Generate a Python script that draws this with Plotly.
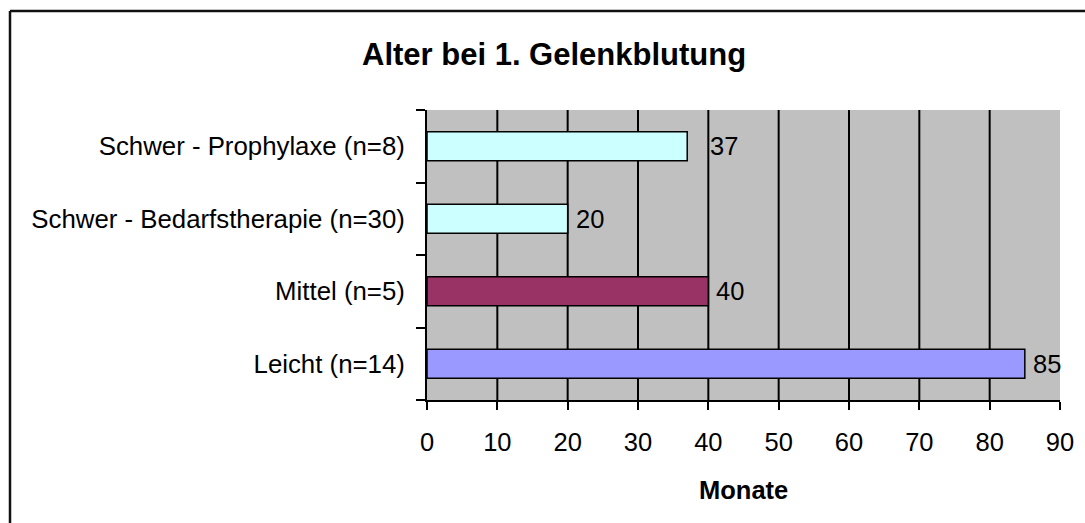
import plotly.graph_objects as go

categories = ["Leicht (n=14)", "Mittel (n=5)", "Schwer - Bedarfstherapie (n=30)", "Schwer - Prophylaxe (n=8)"]
values = [85, 40, 20, 37]
colors = ["#9999FF", "#993366", "#CCFFFF", "#CCFFFF"]
label_pad = [6, 6, 6, 21]
x_ticks = [0, 10, 20, 30, 40, 50, 60, 70, 80, 90]

FONT = "Arial, Liberation Sans, sans-serif"
W, H = 1085, 523
L, R, T, B = 427, 1060, 110, 400


def px(xpix):
    return (xpix - L) / (R - L)


def py(ypix):
    return (B - ypix) / (B - T)


fig = go.Figure()
fig.add_trace(go.Bar(
    y=categories, x=values, orientation="h",
    marker=dict(color=colors, line=dict(color="black", width=1.5)),
    width=0.4,
))

shapes = []
for v in x_ticks[1:-1]:
    shapes.append(dict(type="line", xref="x", yref="paper", x0=v, x1=v, y0=0, y1=1,
                       line=dict(color="black", width=2), layer="below"))
# outer chart frame: only left and top edges are visible in the picture
shapes.append(dict(type="line", xref="paper", yref="paper",
                   x0=px(10), x1=px(10), y0=py(11), y1=py(540),
                   line=dict(color="#111111", width=2.5)))
shapes.append(dict(type="line", xref="paper", yref="paper",
                   x0=px(10), x1=px(1100), y0=py(11), y1=py(11),
                   line=dict(color="#111111", width=2.5)))

annotations = [
    dict(text="<b>Alter bei 1. Gelenkblutung</b>", xref="paper", yref="paper",
         x=px(554), y=py(54), xanchor="center", yanchor="middle",
         showarrow=False, font=dict(family=FONT, size=31, color="black")),
    dict(text="<b>Monate</b>", xref="paper", yref="paper",
         x=px(743), y=py(490), xanchor="center", yanchor="middle",
         showarrow=False, font=dict(family=FONT, size=25.5, color="black")),
]
for c, v, p in zip(categories, values, label_pad):
    annotations.append(dict(text=str(v), x=v, y=c, xref="x", yref="y",
                            xanchor="left", yanchor="middle", xshift=p,
                            showarrow=False,
                            font=dict(family=FONT, size=25.5, color="black")))

fig.update_layout(
    width=W, height=H,
    margin=dict(l=L, r=W - R, t=T, b=H - B),
    paper_bgcolor="white", plot_bgcolor="#C0C0C0",
    showlegend=False,
    font=dict(family=FONT, color="black"),
    shapes=shapes,
    annotations=annotations,
)
fig.update_xaxes(range=[0, 90], tickvals=x_ticks, showgrid=False, zeroline=False,
                 showline=True, linecolor="black", linewidth=2,
                 ticks="outside", ticklen=8, tickwidth=2, tickcolor="black",
                 tickfont=dict(family=FONT, size=25.5, color="black"),
                 ticklabelstandoff=10)
fig.update_yaxes(type="category", categoryorder="array", categoryarray=categories,
                 range=[-0.5, 3.5], tickson="boundaries", showgrid=False,
                 showline=True, linecolor="black", linewidth=2,
                 ticks="outside", ticklen=9, tickwidth=2, tickcolor="black",
                 tickfont=dict(family=FONT, size=25.8, color="black"),
                 ticklabelstandoff=15)

fig.write_html("out.html", config={"displayModeBar": False},
               post_script="document.body.style.margin='0';document.body.style.overflow='hidden';")
